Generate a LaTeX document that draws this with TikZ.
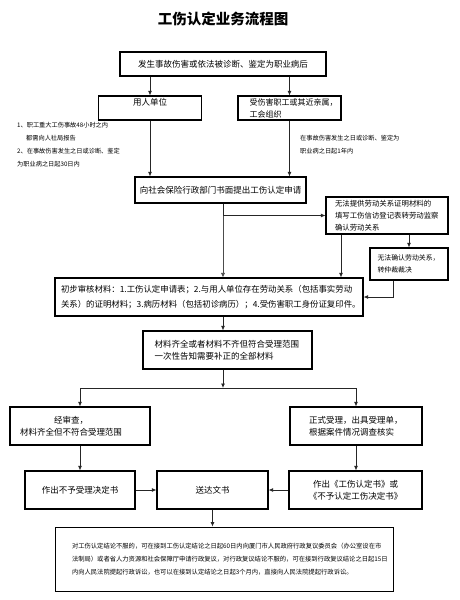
\documentclass[tikz,border=0pt]{standalone}
\usepackage{fontspec}
\setmainfont{Noto Sans CJK SC}
\usetikzlibrary{arrows.meta}
\begin{document}
\begin{tikzpicture}[x=1pt,y=-1pt,
  box/.style={draw=black, line width=1.1pt, inner sep=0pt, font=\fontsize{8.5}{12}\selectfont},
  arr/.style={draw=black!85, line width=0.8pt, -{Latex[length=4.5pt,width=4pt]}},
  ln/.style={draw=black!85, line width=0.8pt},
  note/.style={inner sep=0pt, align=left, font=\fontsize{6.2}{13}\selectfont}]
\useasboundingbox[fill=white] (0,0) rectangle (460,600);

\node[font=\fontsize{14.5}{16}\selectfont\bfseries] (title) at (223,19) {工伤认定业务流程图};

\node[box, minimum width=206pt, minimum height=24pt] (top) at (223,64)
  {发生事故伤害或依法被诊断、鉴定为职业病后};
\node[box, minimum width=103pt, minimum height=24pt, align=center] (unit) at (150,108)
  {用人单位\\\phantom{用}};
\node[box, minimum width=103pt, minimum height=24pt, text width=80pt, align=left,
  font=\fontsize{8}{12}\selectfont] (victim) at (289.5,108)
  {\hspace*{0pt}受伤害职工或其近亲属，\\工会组织};

\node[note, anchor=west] (noteL) at (17,144.5)
  {1、职工重大工伤事故48小时之内\\\hspace*{9pt}都需向人社局报告\\2、在事故伤害发生之日或诊断、鉴定\\为职业病之日起30日内};
\node[note, anchor=west] (noteR) at (300,145)
  {在事故伤害发生之日或诊断、鉴定为\\职业病之日起1年内};

\node[box, minimum width=171pt, minimum height=26pt] (main) at (220.5,190)
  {向社会保险行政部门书面提出工伤认定申请};

\node[box, minimum width=122pt, minimum height=37pt, text width=104pt, align=left,
  font=\fontsize{7.4}{12}\selectfont] (nolabor) at (387,215.5)
  {无法提供劳动关系证明材料的\\填写工伤信访登记表转劳动监察\\确认劳动关系};
\node[box, minimum width=78pt, minimum height=32pt, text width=63pt, align=left,
  font=\fontsize{6.9}{12}\selectfont] (arb) at (409,264)
  {无法确认劳动关系，\\转仲裁裁决};

\node[box, minimum width=308pt, minimum height=38pt, text width=296pt, align=left,
  font=\fontsize{8.4}{15}\selectfont] (init) at (209,297)
  {初步审核材料：1.工伤认定申请表；2.与用人单位存在劳动关系（包括事实劳动\\关系）的证明材料；3.病历材料（包括初诊病历）；4.受伤害职工身份证复印件。};

\node[box, minimum width=169pt, minimum height=38pt, text width=146pt, align=left] (mat) at (227.5,350)
  {材料齐全或者材料不齐但符合受理范围\\一次性告知需要补正的全部材料};

\node[box, minimum width=140pt, minimum height=38pt, align=center] (rej) at (80,426)
  {经审查，\hspace*{18pt}\\材料齐全但不符合受理范围\hspace*{18pt}};
\node[box, minimum width=132pt, minimum height=38pt, text width=94pt, align=left] (acc) at (356,426)
  {正式受理，出具受理单，\\根据案件情况调查核实};

\node[box, minimum width=110pt, minimum height=38pt] (nodec) at (80,490)
  {作出不予受理决定书};
\node[box, minimum width=111pt, minimum height=38pt] (deliver) at (212.5,490)
  {送达文书};
\node[box, minimum width=133pt, minimum height=38pt, align=center] (decide) at (355.5,490)
  {作出《工伤认定书》或\\《不予认定工伤决定书》};

\node[box, line width=0.9pt, minimum width=338pt, minimum height=64pt, text width=304pt, align=left,
  font=\fontsize{6.3}{13}\selectfont] (appeal) at (224,559)
  {对工伤认定结论不服的，可在接到工伤认定结论之日起60日内向厦门市人民政府行政复议委员会（办公室设在市\\法制局）或者省人力资源和社会保障厅申请行政复议，对行政复议结论不服的，可在接到行政复议结论之日起15日\\内向人民法院提起行政诉讼，也可以在接到认定结论之日起3个月内，直接向人民法院提起行政诉讼。};

\coordinate (tr) at (223,0);
\coordinate (c1) at (341,0);
\coordinate (c2) at (393,0);
\coordinate (junc) at (223,388);

\draw[arr] (top.south -| unit.north) -- (unit.north);
\draw[arr] (top.south -| victim.north) -- (victim.north);
\draw[arr] (unit.south) -- (main.north -| unit.south);
\draw[arr] (victim.south) -- (main.north -| victim.south);
\draw[arr, line width=0.6pt, draw=black!70] (main.south -| tr) -- (init.north -| tr);
\draw[arr] (main.south -| tr) |- (nolabor.west);
\draw[arr] (nolabor.south -| c1) -- (init.north -| c1);
\draw[arr] (nolabor.south -| arb.north) -- (arb.north);
\draw[arr] (arb.south -| c2) |- (init.east);
\draw[arr] (init.south -| tr) -- (mat.north -| tr);
\draw[arr] (mat.south -| tr) -- (junc);
\draw[arr] (junc) -| (rej.north);
\draw[arr] (junc) -| (acc.north);
\draw[arr] (rej.south) -- (nodec.north);
\draw[arr] (acc.south) -- (acc.south |- decide.north);
\draw[arr] (nodec.east) -- (deliver.west);
\draw[arr] (decide.west) -- (deliver.east);
\draw[arr] (deliver.south) -- (deliver.south |- appeal.north);
\end{tikzpicture}
\end{document}
